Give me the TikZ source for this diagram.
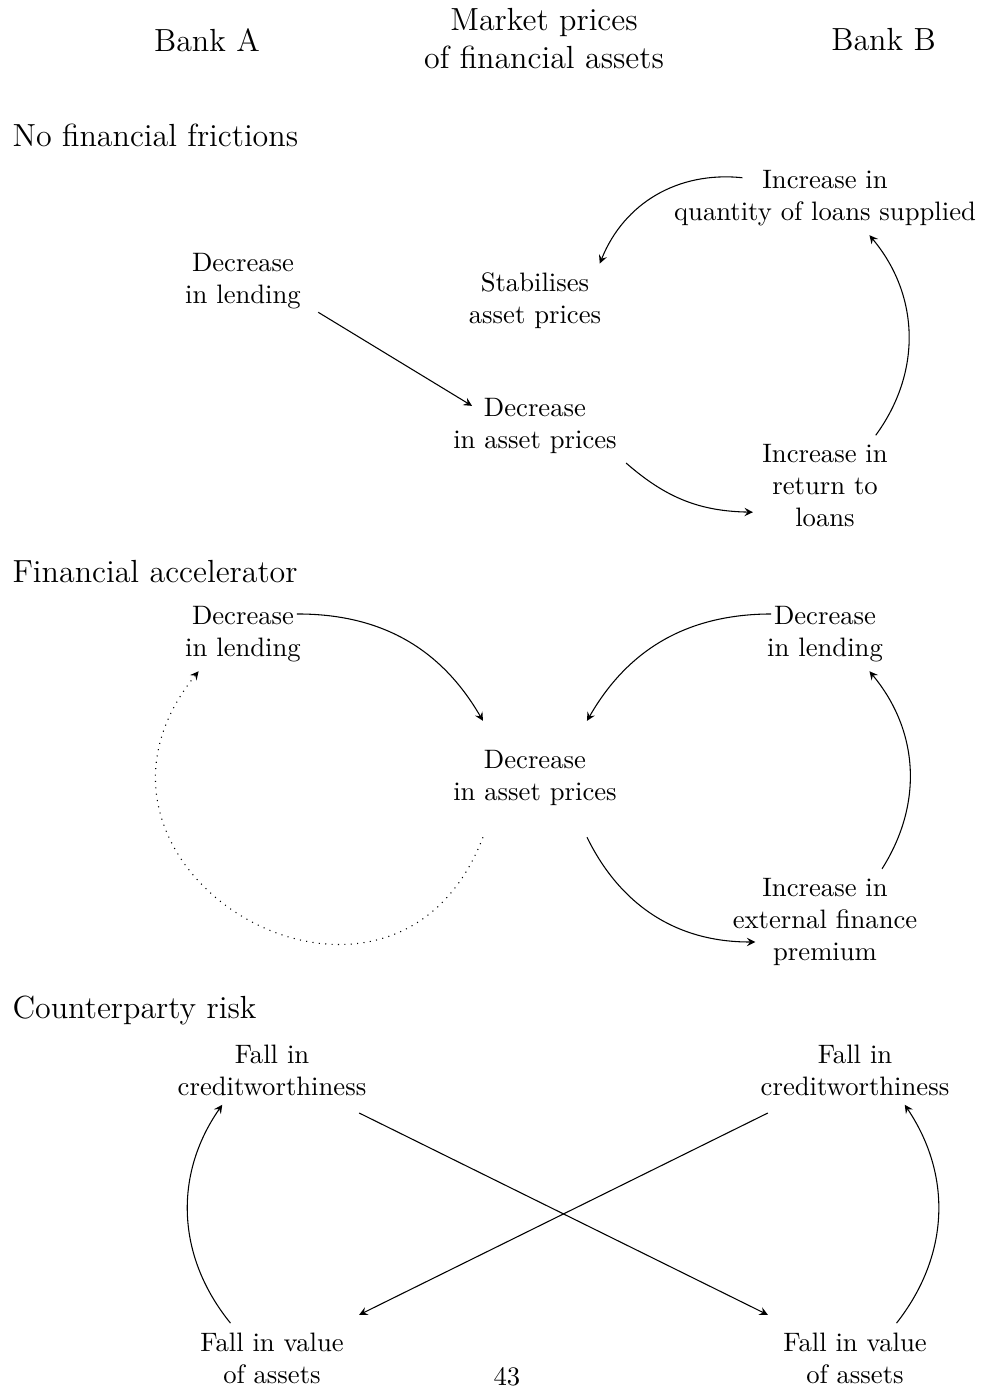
\documentclass[tikz,border=0pt]{standalone}
\tikzset{
	heading/.style={align=center, font=\large},
	casetitle/.style={anchor=west, font=\large},
	effect/.style={align=center},
	link/.style={-stealth},
	feedback/.style={-stealth, dotted},
}

\begin{document}
\begin{tikzpicture}
	\useasboundingbox (0,0) rectangle (12.93, 18.294);

	% column headings
	\node[heading] (bankA) at (2.728, 17.767) {Bank A};
	\node[heading] (market) at (7.170, 17.786) {Market prices\\of financial assets};
	\node[heading] (bankB) at (11.645, 17.767) {Bank B};

	% no financial frictions
	\node[casetitle] (caseA) at (0.041, 16.514) {No financial frictions};
	\node[effect] (quant) at (10.874, 15.685) {Increase in\\quantity of loans supplied};
	\node[effect] (stab) at (7.051, 14.327) {Stabilises\\asset prices};
	\node[effect] (lendA) at (3.203, 14.591) {Decrease\\in lending};
	\node[effect] (assetA) at (7.051, 12.680) {Decrease\\in asset prices};
	\node[effect] (ret) at (10.874, 11.889) {Increase in\\return to\\loans};

	\draw[link] ([xshift=3pt]lendA.-25) -- ([shift={(-23.6pt,-6.4pt)}]assetA.north);
	\draw[link] (assetA.south east) to[bend right=20] (ret.200);
	\draw[link] (ret.45) to[bend right=38] (quant.-40);
	\draw[link] ([shift={(-31pt,-6.4pt)}]quant.north) to[bend right=37] (stab.30);

	% financial accelerator
	\node[casetitle] (caseB) at (0.041, 10.755) {Financial accelerator};
	\node[effect] (lendB) at (3.203, 9.938) {Decrease\\in lending};
	\node[effect] (assetB) at (7.051, 8.040) {Decrease\\in asset prices};
	\node[effect] (lendC) at (10.874, 9.938) {Decrease\\in lending};
	\node[effect] (prem) at (10.874, 6.142) {Increase in\\external finance\\premium};

	\draw[link] ([shift={(-5pt,7.5pt)}]lendB.east) to[bend left=30] ([shift={(-19.5pt,7.5pt)}]assetB.north);
	\draw[link] ([shift={(5pt,7.5pt)}]lendC.west) to[bend right=30] ([shift={(19.5pt,7.5pt)}]assetB.north);
	\draw[link] ([shift={(19.5pt,-8.3pt)}]assetB.south) to[bend right=32] ([shift={(12pt,-7.5pt)}]prem.west);
	\draw[link] (prem.43) to[bend right=36] (lendC.-40);
	\draw[feedback] ([shift={(-19.5pt,-8.3pt)}]assetB.south) to[out=-111, in=-129, looseness=1.98] (lendB.220);

	% counterparty risk
	\node[casetitle] (caseC) at (0.041, 4.982) {Counterparty risk};
	\node[effect] (credA) at (3.585, 4.192) {Fall in\\creditworthiness};
	\node[effect] (credB) at (11.269, 4.192) {Fall in\\creditworthiness};
	\node[effect] (valA) at (3.585, 0.396) {Fall in value\\of assets};
	\node[effect] (valB) at (11.269, 0.396) {Fall in value\\of assets};

	\draw[link] (valA.140) to[bend left=37] (credA.215);
	\draw[link] (valB.40) to[bend right=36] (credB.-35);
	\draw[link, shorten <=7pt, shorten >=7pt] (credA) -- (valB);
	\draw[link, shorten <=7pt, shorten >=7pt] (credB) -- (valA);

	\node (page) at (6.682, 0.145) {43};
\end{tikzpicture}
\end{document}
